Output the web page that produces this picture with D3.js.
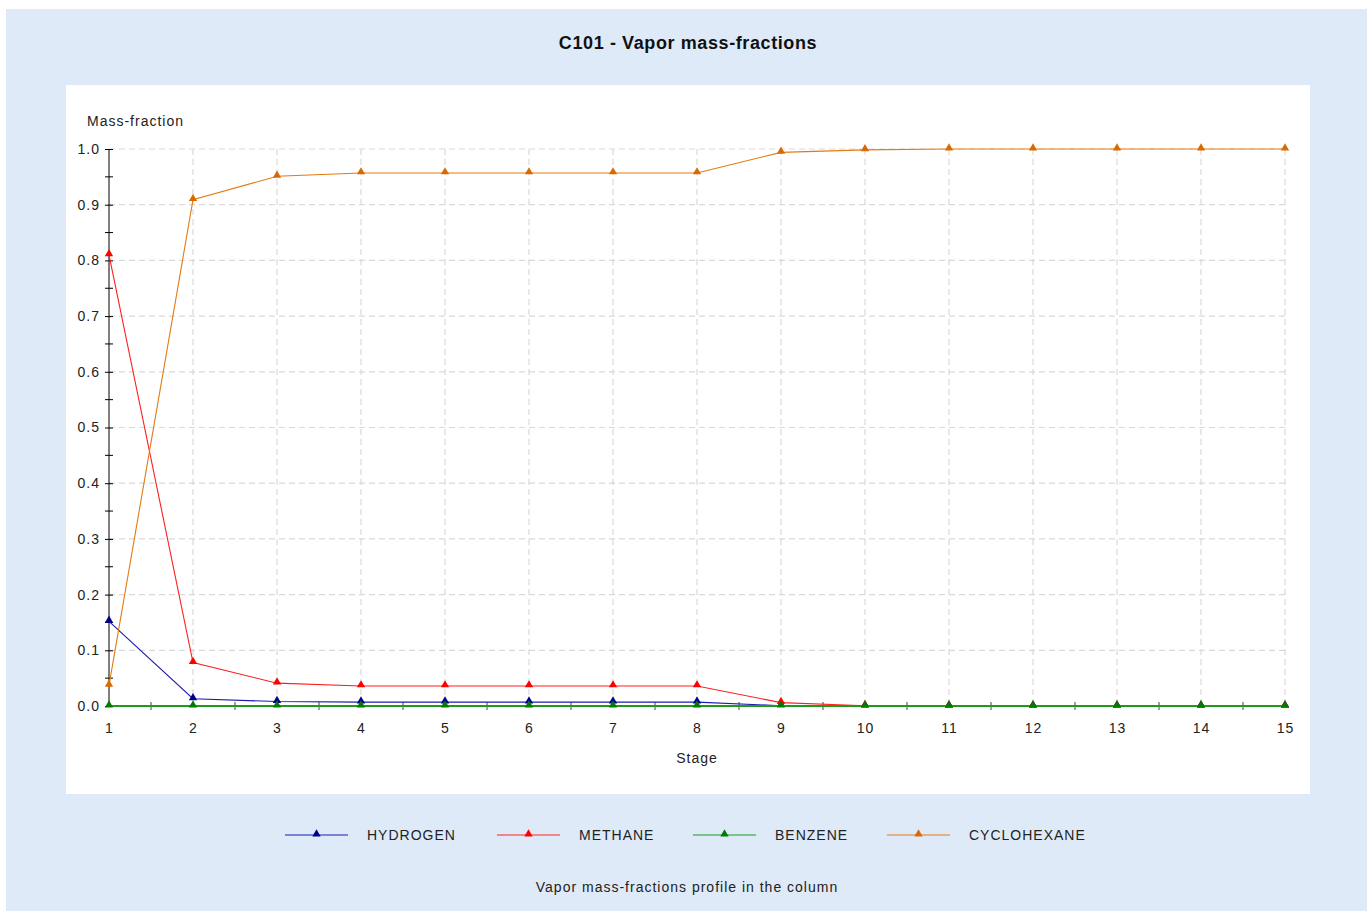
<!DOCTYPE html>
<html>
<head>
<meta charset="utf-8">
<script src="https://cdn.jsdelivr.net/npm/d3@7"></script>
<style>
  html, body { margin: 0; padding: 0; background: #ffffff; }
  svg { display: block; font-family: "Liberation Sans", Arial, sans-serif; }
</style>
</head>
<body>
<svg id="chart" width="1371" height="911"></svg>
<script>
// Column stages and vapor mass-fraction profiles per component
const stages = [1, 2, 3, 4, 5, 6, 7, 8, 9, 10, 11, 12, 13, 14, 15];
const hydrogen    = [0.152, 0.013, 0.008, 0.007, 0.007, 0.007, 0.007, 0.007, 0.0005, 0.0, 0.0, 0.0, 0.0, 0.0, 0.0];
const methane     = [0.810, 0.078, 0.041, 0.036, 0.036, 0.036, 0.036, 0.036, 0.006, 0.0005, 0.0, 0.0, 0.0, 0.0, 0.0];
const benzene     = [0.0, 0.0, 0.0, 0.0, 0.0, 0.0, 0.0, 0.0, 0.0, 0.0, 0.0, 0.0, 0.0, 0.0, 0.0];
const cyclohexane = [0.037, 0.909, 0.951, 0.957, 0.957, 0.957, 0.957, 0.957, 0.994, 0.9985, 1.0, 1.0, 1.0, 1.0, 1.0];
const seriesNames = ["HYDROGEN", "METHANE", "BENZENE", "CYCLOHEXANE"];
const seriesValues = [hydrogen, methane, benzene, cyclohexane];
const seriesColors = ["#1c1cae", "#ff1f1f", "#1e9a1e", "#e37a12"];
const markerColors = ["#00008b", "#ff0000", "#007a00", "#d96a00"];
const yTicks = [0.0, 0.1, 0.2, 0.3, 0.4, 0.5, 0.6, 0.7, 0.8, 0.9, 1.0];

const svg = d3.select("#chart");
const W = 1371, H = 911;
const LS = "1px";

// Panels
svg.append("rect").attr("x", 6).attr("y", 9).attr("width", 1361).attr("height", H - 9)
  .attr("fill", "#dfeaf8");
svg.append("rect").attr("x", 66).attr("y", 85).attr("width", 1244).attr("height", 709)
  .attr("fill", "#ffffff");

// Title
svg.append("text").attr("x", 688).attr("y", 49).attr("text-anchor", "middle")
  .attr("font-size", 18).attr("font-weight", "bold").attr("fill", "#111")
  .attr("letter-spacing", "0.6px")
  .text("C101 - Vapor mass-fractions");

// Scales
const x = d3.scaleLinear().domain([1, 15]).range([109, 1285]);
const y = d3.scaleLinear().domain([0, 1]).range([706, 149]);

// Grid
const grid = svg.append("g").attr("stroke", "#d9d9d9").attr("stroke-width", 1.2)
  .attr("stroke-dasharray", "6,4");
grid.selectAll("line.h").data(yTicks.slice(1)).join("line")
  .attr("x1", x(1)).attr("x2", x(15))
  .attr("y1", d => y(d)).attr("y2", d => y(d));
grid.selectAll("line.v").data(stages.slice(1)).join("line")
  .attr("x1", d => x(d)).attr("x2", d => x(d))
  .attr("y1", y(1)).attr("y2", y(0));

// Y axis
const yAxis = d3.axisLeft(y).tickValues(yTicks).tickFormat(d3.format(".1f"))
  .tickSize(4).tickPadding(5);
const gy = svg.append("g").attr("transform", `translate(${x(1)},0)`).call(yAxis);
gy.select(".domain").attr("stroke", "#000").attr("d", `M0,${y(1)}V${y(0)}`);
gy.selectAll(".tick line").attr("stroke", "#000").attr("x1", 4);
gy.selectAll(".tick text").attr("font-size", 14).attr("fill", "#222")
  .attr("letter-spacing", LS)
  .attr("font-family", "Liberation Sans, Arial, sans-serif");
// minor y ticks
svg.append("g").selectAll("line").data(d3.range(0.05, 1, 0.1)).join("line")
  .attr("x1", x(1) - 4).attr("x2", x(1) + 4)
  .attr("y1", d => y(d)).attr("y2", d => y(d)).attr("stroke", "#000");

// X axis
const xAxis = d3.axisBottom(x).tickValues(stages).tickFormat(d3.format("d"))
  .tickSize(0).tickPadding(17);
const gx = svg.append("g").attr("transform", `translate(0,${y(0)})`).call(xAxis);
gx.select(".domain").attr("stroke", "#000").attr("d", `M${x(1)},0H${x(15)}`);
gx.selectAll(".tick text").attr("font-size", 14).attr("fill", "#222")
  .attr("letter-spacing", LS)
  .attr("font-family", "Liberation Sans, Arial, sans-serif");
// half-step x ticks
svg.append("g").selectAll("line").data(d3.range(1.5, 15, 1)).join("line")
  .attr("x1", d => x(d)).attr("x2", d => x(d))
  .attr("y1", y(0) - 4).attr("y2", y(0) + 4).attr("stroke", "#444");

// Axis titles
svg.append("text").attr("x", 87).attr("y", 126).attr("font-size", 14).attr("fill", "#222")
  .attr("letter-spacing", LS).text("Mass-fraction");
svg.append("text").attr("x", x(8)).attr("y", 763).attr("text-anchor", "middle")
  .attr("font-size", 14).attr("fill", "#222").attr("letter-spacing", LS).text("Stage");

// Series
const tri = d3.symbol().type(d3.symbolTriangle).size(30);
const line = d3.line().x((d, i) => x(stages[i])).y(d => y(d));
seriesValues.forEach((vals, k) => {
  const g = svg.append("g");
  g.append("path").datum(vals).attr("d", line).attr("fill", "none")
    .attr("stroke", seriesColors[k]).attr("stroke-width", k === 2 ? 1.8 : 1.1);
  g.selectAll("path.m").data(vals).join("path").attr("class", "m")
    .attr("transform", (d, i) => `translate(${x(stages[i])},${y(d) - 1})`)
    .attr("d", tri).attr("fill", markerColors[k]);
});

// Legend
const legendX = [285, 497, 693, 887];
const lg = svg.append("g");
seriesNames.forEach((name, k) => {
  const x0 = legendX[k];
  lg.append("line").attr("x1", x0).attr("x2", x0 + 63).attr("y1", 835).attr("y2", 835)
    .attr("stroke", seriesColors[k]).attr("stroke-width", 1.2);
  lg.append("path").attr("transform", `translate(${x0 + 31.5},834)`).attr("d", tri)
    .attr("fill", markerColors[k]);
  lg.append("text").attr("x", x0 + 82).attr("y", 840).attr("font-size", 14)
    .attr("fill", "#222").attr("letter-spacing", LS).text(name);
});

// Caption
svg.append("text").attr("x", 687).attr("y", 892).attr("text-anchor", "middle")
  .attr("font-size", 14).attr("fill", "#222").attr("letter-spacing", LS)
  .text("Vapor mass-fractions profile in the column");
</script>
</body>
</html>
